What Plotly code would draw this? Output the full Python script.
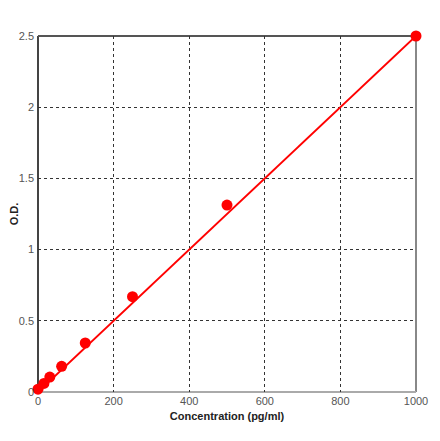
import plotly.graph_objects as go

conc = [0, 15.6, 31.25, 62.5, 125, 250, 500, 1000]
od = [0.02, 0.06, 0.105, 0.18, 0.344, 0.669, 1.313, 2.5]
fit_conc = [0, 1000]
fit_od = [0.0, 2.5]
x_ticks = [0, 200, 400, 600, 800, 1000]
y_ticks = [0, 0.5, 1, 1.5, 2, 2.5]

fig = go.Figure()
fig.add_trace(go.Scatter(x=fit_conc, y=fit_od, mode="lines",
                         line=dict(color="#ff0000", width=2), showlegend=False))
fig.add_trace(go.Scatter(x=conc, y=od, mode="markers",
                         marker=dict(color="#ff0000", size=11), showlegend=False,
                         cliponaxis=False))

tickfont = dict(family="Liberation Sans, Arial", size=11, color="#555555")
fig.update_xaxes(range=[0, 1000], tickvals=x_ticks, ticktext=[str(v) for v in x_ticks],
                 showgrid=True, gridcolor="#333333", griddash="dot", gridwidth=1,
                 zeroline=False, showline=False, ticks="", tickfont=tickfont, automargin=False,
                 ticklabelstandoff=1,
                 title=dict(text="<b>Concentration (pg/ml)</b>", standoff=6,
                            font=dict(family="Liberation Sans, Arial", size=11, color="#222222")))
fig.update_yaxes(range=[0, 2.5], tickvals=y_ticks, ticktext=["0", "0.5", "1", "1.5", "2", "2.5"],
                 showgrid=True, gridcolor="#333333", griddash="dot", gridwidth=1,
                 zeroline=False, showline=False, ticks="", tickfont=tickfont, automargin=False,
                 ticklabelstandoff=3,
                 title=dict(text="<b>O.D.</b>", standoff=2,
                            font=dict(family="Liberation Sans, Arial", size=11, color="#222222")))

border = [
    dict(x0=0, x1=0, y0=0, y1=1, color="#444444"),
    dict(x0=0, x1=1, y0=1, y1=1, color="#555555"),
    dict(x0=1, x1=1, y0=0, y1=1, color="#888888"),
    dict(x0=0, x1=1, y0=0, y1=0, color="#aaaaaa"),
]
for b in border:
    fig.add_shape(type="line", xref="paper", yref="paper", x0=b["x0"], x1=b["x1"],
                  y0=b["y0"], y1=b["y1"], line=dict(color=b["color"], width=2), layer="below")

fig.update_layout(width=440, height=441, margin=dict(l=30, r=32, t=28, b=57),
                  plot_bgcolor="white", paper_bgcolor="white")
fig.write_html("out.html")
